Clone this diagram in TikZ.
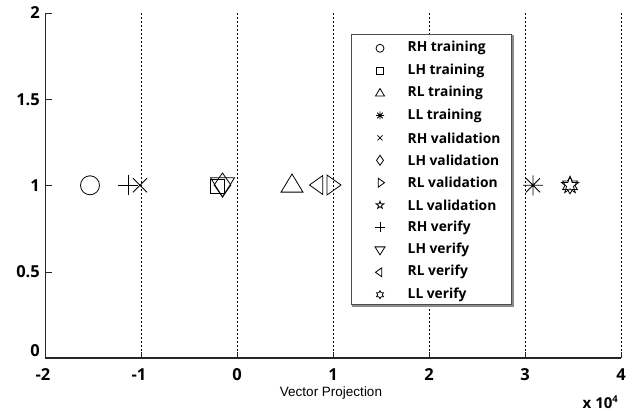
\documentclass[tikz,border=0pt]{standalone}
\usepackage{fontspec}
\setmainfont{Open Sans}
\newfontfamily\arialf{Liberation Sans}
\begin{document}
\begin{tikzpicture}[x=1pt,y=-1pt,
  axisline/.style={line width=1.1pt,draw=black!85},
  gridline/.style={black,line width=0.7pt,dash pattern=on 2pt off 2pt},
  mk/.style={line width=0.8pt,black},
  ticklbl/.style={font=\fontsize{16.5}{16.5}\selectfont\bfseries,inner sep=0pt},
  leglbl/.style={font=\fontsize{13.8}{13.8}\selectfont\bfseries,anchor=west,inner sep=0pt,text=black},
  pics/mcirc/.style={code={\draw[mk] (0,0) circle (#1pt);}},
  pics/msq/.style={code={\draw[mk] (-#1,-#1) rectangle (#1,#1);}},
  pics/mdia/.style={code={\draw[mk] (0,-#1) -- ({0.7*#1},0) -- (0,#1) -- ({-0.7*#1},0) -- cycle;}},
  pics/mtriup/.style={code={\draw[mk] (0,-#1) -- (#1,{0.65*#1}) -- (-#1,{0.65*#1}) -- cycle;}},
  pics/mtridown/.style={code={\draw[mk] (0,#1) -- (#1,{-0.6*#1}) -- (-#1,{-0.6*#1}) -- cycle;}},
  pics/mtrileft/.style={code={\draw[mk] (-#1,0) -- ({0.4*#1},-#1) -- ({0.4*#1},#1) -- cycle;}},
  pics/mtriright/.style={code={\draw[mk] (#1,0) -- ({-0.4*#1},-#1) -- ({-0.4*#1},#1) -- cycle;}},
  pics/mplus/.style={code={\draw[mk] (-#1,0) -- (#1,0) (0,-#1) -- (0,#1);}},
  pics/mx/.style={code={\draw[mk] (-#1,-#1) -- (#1,#1) (-#1,#1) -- (#1,-#1);}},
  pics/mast/.style={code={\draw[mk] (-#1,0) -- (#1,0) (0,-#1) -- (0,#1)
     ({-0.7*#1},{-0.7*#1}) -- ({0.7*#1},{0.7*#1}) ({-0.7*#1},{0.7*#1}) -- ({0.7*#1},{-0.7*#1});}},
  pics/mpent/.style={code={\draw[mk] (-90:#1) \foreach \k in {1,...,9}{ -- ({-90+36*\k}:{ifthenelse(isodd(\k),0.4,1)*#1}) } -- cycle;}},
  pics/mhex/.style={code={\draw[mk] (-90:#1) \foreach \k in {1,...,11}{ -- ({-90+30*\k}:{ifthenelse(isodd(\k),0.58,1)*#1}) } -- cycle;}},
]
\useasboundingbox (0,0) rectangle (639,411);

% grid lines
\foreach \gx in {141,237,333,429,525,621}
  \draw[gridline] (\gx,13) -- (\gx,358);

% axes
\draw[axisline] (45.5,13) -- (45.5,358) -- (621,358);
\foreach \ty in {13,99.3,185.6,272}
  \draw[axisline,line width=0.9pt] (45.5,\ty) -- (51.5,\ty);
\foreach \tx in {141,237,333,429,525,621}
  \draw[axisline,line width=0.9pt] (\tx,358) -- (\tx,352);

% y tick labels
\node[ticklbl,anchor=east] (y2) at (40,13) {2};
\node[ticklbl,anchor=east] (y15) at (40,99.3) {1.5};
\node[ticklbl,anchor=east] (y1) at (40,185.6) {1};
\node[ticklbl,anchor=east] (y05) at (40,272) {0.5};
\node[ticklbl,anchor=east] (y0) at (40,351) {0};

% x tick labels
\node[ticklbl] (xm2) at (43,375) {-2};
\node[ticklbl] (xm1) at (139,375) {-1};
\node[ticklbl] (x0) at (237,375) {0};
\node[ticklbl] (x1) at (333,375) {1};
\node[ticklbl] (x2) at (429,375) {2};
\node[ticklbl] (x3) at (525,375) {3};
\node[ticklbl] (x4) at (621,375) {4};

\node[font=\arialf\fontsize{13.5}{13.5}\selectfont,inner sep=0pt] (xlab) at (331,393) {Vector Projection};
\node[font=\fontsize{15}{15}\selectfont\bfseries,inner sep=0pt,anchor=base east] (xexp) at (618,408.5) {x 10\raisebox{6.5pt}{\fontsize{9.5}{9.5}\selectfont 4}};

% data markers
\pic at (90,185.3) {mcirc=9.5};
\pic at (128,185.3) {mplus=10};
\pic at (140,185.3) {mx=7};
\pic at (217,186) {msq=7};
\pic at (222.5,185) {mdia=12};
\pic at (222.5,185) {mtridown=12};
\pic at (292,185) {mtriup=11};
\pic at (319,185) {mtrileft=9.5};
\pic at (331,185) {mtriright=10};
\pic at (533,185.3) {mast=10};
\pic at (570,185.3) {mpent=9};
\pic at (570,185.3) {mhex=8.5};

% legend
\draw[draw=black!45,line width=2pt] (353,36) rectangle (512.5,306);
\draw[fill=white,draw=black!70,line width=0.8pt] (351.7,34.3) rectangle (511.2,304.5);

\pic at (380,48.3) {mcirc=4};
\pic at (380,70.7) {msq=3.5};
\pic at (380,93.1) {mtriup=4.5};
\pic at (380,115.5) {mast=4};
\pic at (380,137.9) {mx=2.5};
\pic at (380,160.3) {mdia=5};
\pic at (380,182.7) {mtriright=4.5};
\pic at (380,205.1) {mpent=4};
\pic at (380,227.5) {mplus=5};
\pic at (380,249.9) {mtridown=5};
\pic at (380,272.3) {mtrileft=4.5};
\pic at (380,294.7) {mhex=4};

\node[leglbl] (l1) at (407.5,48.3) {RH training};
\node[leglbl] (l2) at (407.5,70.7) {LH training};
\node[leglbl] (l3) at (407.5,93.1) {RL training};
\node[leglbl] (l4) at (407.5,115.5) {LL training};
\node[leglbl] (l5) at (407.5,137.9) {RH validation};
\node[leglbl] (l6) at (407.5,160.3) {LH validation};
\node[leglbl] (l7) at (407.5,182.7) {RL validation};
\node[leglbl] (l8) at (407.5,205.1) {LL validation};
\node[leglbl] (l9) at (407.5,227.5) {RH verify};
\node[leglbl] (l10) at (407.5,249.9) {LH verify};
\node[leglbl] (l11) at (407.5,272.3) {RL verify};
\node[leglbl] (l12) at (407.5,294.7) {LL verify};
\end{tikzpicture}
\end{document}
